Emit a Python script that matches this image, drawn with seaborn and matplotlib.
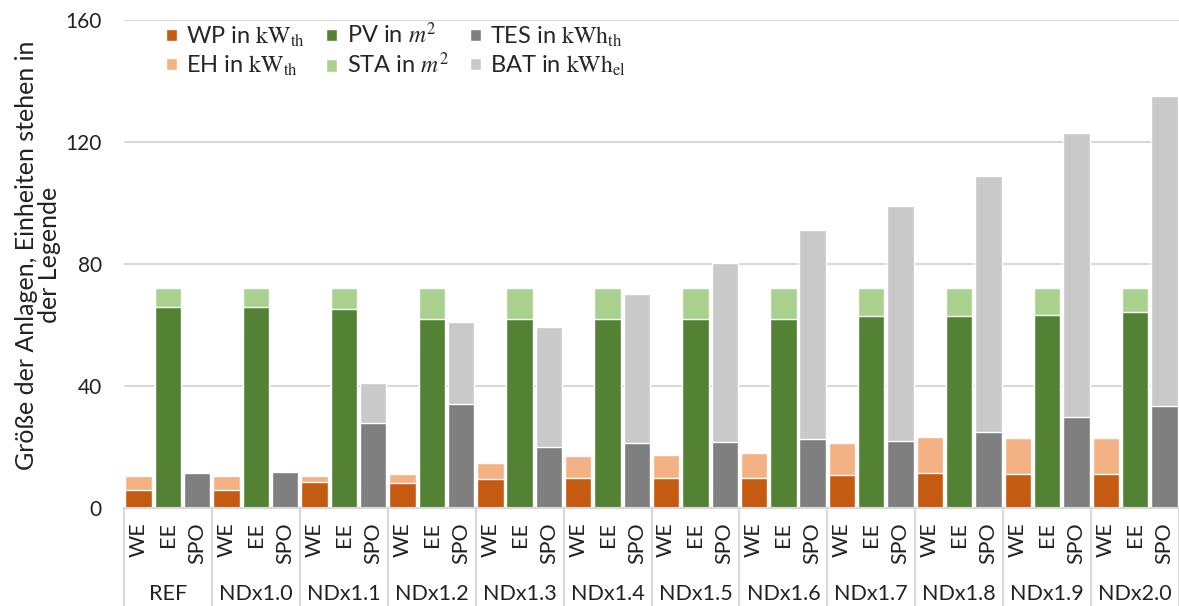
import numpy as np
import pandas as pd
import seaborn as sns
import matplotlib.pyplot as plt
from matplotlib.patches import Patch
from matplotlib.transforms import blended_transform_factory

groups = ['REF', 'NDx1.0', 'NDx1.1', 'NDx1.2', 'NDx1.3', 'NDx1.4',
          'NDx1.5', 'NDx1.6', 'NDx1.7', 'NDx1.8', 'NDx1.9', 'NDx2.0']
subs = ['WE', 'EE', 'SPO']

# WE: Waermepumpe + Heizstab
wp = [6.0, 6.0, 8.4, 8.2, 9.5, 9.8, 9.8, 9.8, 10.7, 11.6, 11.3, 11.3]
eh = [4.5, 4.5, 2.1, 2.9, 5.2, 7.3, 7.6, 8.3, 10.7, 11.8, 11.8, 11.6]
# EE: PV + Solarthermie
pv = [66.0, 66.0, 65.4, 62.1, 62.1, 62.1, 62.1, 62.1, 62.8, 63.1, 63.4, 64.1]
sta = [6.0, 6.0, 6.6, 9.9, 9.9, 9.9, 9.9, 9.9, 9.2, 8.9, 8.6, 7.9]
# SPO: thermischer Speicher + Batterie
tes = [11.5, 11.8, 27.8, 34.0, 20.0, 21.3, 21.6, 22.6, 22.1, 24.8, 29.7, 33.6]
bat = [0.0, 0.0, 13.1, 27.1, 39.5, 49.0, 58.8, 68.4, 76.8, 84.2, 93.1, 101.6]

colors = {'WP': '#C55A11', 'EH': '#F4B183', 'PV': '#548235',
          'STA': '#A9D18E', 'TES': '#7F7F7F', 'BAT': '#C9C9C9'}

rows = []
for i, g in enumerate(groups):
    for s, (lo, lo_name, hi, hi_name) in zip(subs, [(wp[i], 'WP', eh[i], 'EH'),
                                                    (pv[i], 'PV', sta[i], 'STA'),
                                                    (tes[i], 'TES', bat[i], 'BAT')]):
        rows.append({'slot': f'{g}|{s}', 'sub': s, 'lower': lo, 'lower_part': lo_name,
                     'total': lo + hi, 'upper_part': hi_name})
df = pd.DataFrame(rows)
order = list(df['slot'])

sns.set_style('white')
plt.rcParams['font.family'] = ['Lato', 'DejaVu Sans']
plt.rcParams['mathtext.fontset'] = 'stix'
txt = '#222222'

fig = plt.figure(figsize=(11.79, 6.06), dpi=100)
ax = fig.add_axes([124 / 1179, 1 - 508 / 606, 1055 / 1179, 488 / 606])

# stacked bars: draw totals first, then the lower part on top
sns.barplot(data=df, x='slot', y='total', hue='upper_part', order=order,
            palette=colors, dodge=False, width=0.9, saturation=1, legend=False, ax=ax)
sns.barplot(data=df, x='slot', y='lower', hue='lower_part', order=order,
            palette=colors, dodge=False, width=0.9, saturation=1, legend=False, ax=ax)

ax.set_xlim(-0.5, len(order) - 0.5)
ax.set_ylim(0, 160)
ax.set_yticks([0, 40, 80, 120, 160])
ax.yaxis.grid(True, color='#D9D9D9', linewidth=1.5)
ax.set_axisbelow(True)
for side in ['left', 'right', 'top']:
    ax.spines[side].set_visible(False)
ax.spines['bottom'].set_color('#D9D9D9')
ax.spines['bottom'].set_linewidth(1.5)
ax.tick_params(axis='y', length=0, pad=16, labelsize=15, labelcolor=txt)
ax.tick_params(axis='x', length=0, pad=10, labelsize=15.5, labelcolor=txt)
ax.set_xticks(range(len(order)))
ax.set_xticklabels(list(df['sub']), rotation=90, va='top')
ax.set_xlabel('')
ax.set_ylabel('')
fig.text(38 / 1179, 1 - 255 / 606, 'Größe der Anlagen, Einheiten stehen in\nder Legende',
         rotation=90, ha='center', va='center', multialignment='center',
         fontsize=18, color=txt, linespacing=1.05)

# second level: group names and separators
trans = blended_transform_factory(ax.transData, ax.transAxes)
for i, g in enumerate(groups):
    ax.text(3 * i + 1, -0.176, g, transform=trans, ha='center', va='center',
            fontsize=15.5, color=txt)
for k in range(len(groups) + 1):
    ax.plot([3 * k - 0.5, 3 * k - 0.5], [0, -0.21], transform=trans,
            color='#D9D9D9', linewidth=1.5, clip_on=False)

labels = {'WP': r'WP in $\mathrm{kW_{th}}$', 'EH': r'EH in $\mathrm{kW_{th}}$',
          'PV': r'PV in $m^2$', 'STA': r'STA in $m^2$',
          'TES': r'TES in $\mathrm{kWh_{th}}$', 'BAT': r'BAT in $\mathrm{kWh_{el}}$'}
handles = [Patch(facecolor=colors[k], label=labels[k]) for k in ['WP', 'EH', 'PV', 'STA', 'TES', 'BAT']]
ax.legend(handles=handles, ncol=3, loc='upper left', bbox_to_anchor=(0.02, 1.04),
          frameon=False, fontsize=17, handlelength=0.45, handleheight=0.45,
          handletextpad=0.4, columnspacing=0.9, labelspacing=0.2)

fig.savefig('out.png', dpi=100)
